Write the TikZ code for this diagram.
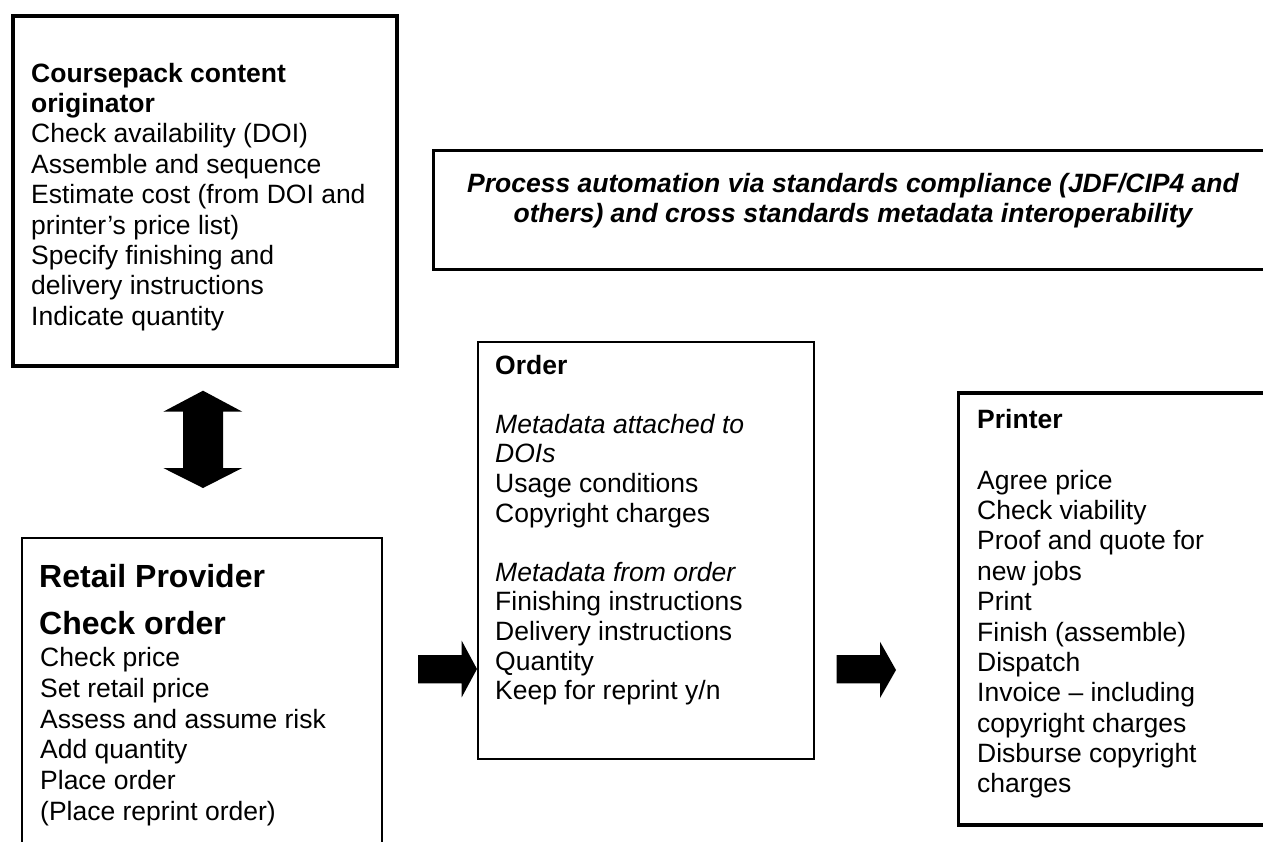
\documentclass[tikz,border=0pt]{standalone}
\usepackage{fontspec}
\setmainfont{Liberation Sans}
\newcommand\bodysize{\fontsize{26.5}{30.4}\selectfont}
\newcommand\headsize{\fontsize{32}{36}\selectfont}
\begin{document}
\begin{tikzpicture}[x=1pt,y=-1pt,
  heavybox/.style={draw, line width=3.6pt, inner sep=0pt, anchor=north west},
  lightbox/.style={draw, line width=1.8pt, inner sep=0pt, anchor=north west},
  txt/.style={inner sep=0pt, anchor=base west},
  blockarrow/.style={fill=black, draw=none}]
\useasboundingbox (0,0) rectangle (1263,841);
\clip (0,0) rectangle (1263,841);
\fill[white] (0,0) rectangle (1263,841);

% boxes
\node[heavybox, minimum width=384pt, minimum height=350pt] (origin) at (11,14) {};
\node[draw, line width=2.8pt, inner sep=0pt, anchor=north west,
      minimum width=860pt, minimum height=119pt] (standards) at (432,149) {};
\node[lightbox, minimum width=360pt, minimum height=340pt] (retail) at (21,537) {};
\node[lightbox, minimum width=336pt, minimum height=416.7pt] (order) at (477,341) {};
\node[heavybox, minimum width=340pt, minimum height=432pt] (printer) at (956.7,391.3) {};

% box texts
\node[txt] (origintext) at (31,82) {\parbox[t]{360pt}{\bodysize
  \textbf{Coursepack content}\\
  \textbf{originator}\\
  Check availability (DOI)\\
  Assemble and sequence\\
  Estimate cost (from DOI and\\
  printer’s price list)\\
  Specify finishing and\\
  delivery instructions\\
  Indicate quantity}};

\node[inner sep=0pt, anchor=base] (standardstext) at (853,192) {\parbox[t]{820pt}{\centering
  \fontsize{26.5}{30}\selectfont\bfseries\itshape
  Process automation via standards compliance (JDF/CIP4 and\\
  others) and cross standards metadata interoperability}};

\node[txt] (retailtitle) at (39,587.7) {\headsize\bfseries Retail Provider};
\node[txt] (retailsub) at (39,634) {\headsize\bfseries Check order};
\node[txt] (retailtext) at (40,666.7) {\parbox[t]{330pt}{\fontsize{26.5}{30.66}\selectfont
  Check price\\
  Set retail price\\
  Assess and assume risk\\
  Add quantity\\
  Place order\\
  (Place reprint order)}};

\node[txt] (ordertext) at (495,374) {\parbox[t]{310pt}{\fontsize{26.5}{29.6}\selectfont
  \textbf{Order}\\
  \mbox{}\\
  \textit{Metadata attached to}\\
  \textit{DOIs}\\
  Usage conditions\\
  Copyright charges\\
  \mbox{}\\
  \textit{Metadata from order}\\
  Finishing instructions\\
  Delivery instructions\\
  Quantity\\
  Keep for reprint y/n}};

\node[txt] (printertext) at (977,428.3) {\parbox[t]{280pt}{\fontsize{26.5}{30.39}\selectfont
  \textbf{Printer}\\
  \mbox{}\\
  Agree price\\
  Check viability\\
  Proof and quote for\\
  new jobs\\
  Print\\
  Finish (assemble)\\
  Dispatch\\
  Invoice – including\\
  copyright charges\\
  Disburse copyright\\
  charges}};

% block arrows between the boxes
\fill[blockarrow] (203,390.7) -- (242.3,411.7) -- (223,411.7) -- (223,468)
  -- (242.3,468) -- (203,488) -- (163.3,468) -- (183,468) -- (183,411.7)
  -- (163.3,411.7) -- cycle;
\fill[blockarrow] (418,655) -- (461.7,655) -- (461.7,640.7) -- (477,669)
  -- (461.7,697.3) -- (461.7,683.3) -- (418,683.3) -- cycle;
\fill[blockarrow] (836.7,655) -- (880,655) -- (880,641.7) -- (896,670)
  -- (880,698) -- (880,683.3) -- (836.7,683.3) -- cycle;
\end{tikzpicture}
\end{document}
